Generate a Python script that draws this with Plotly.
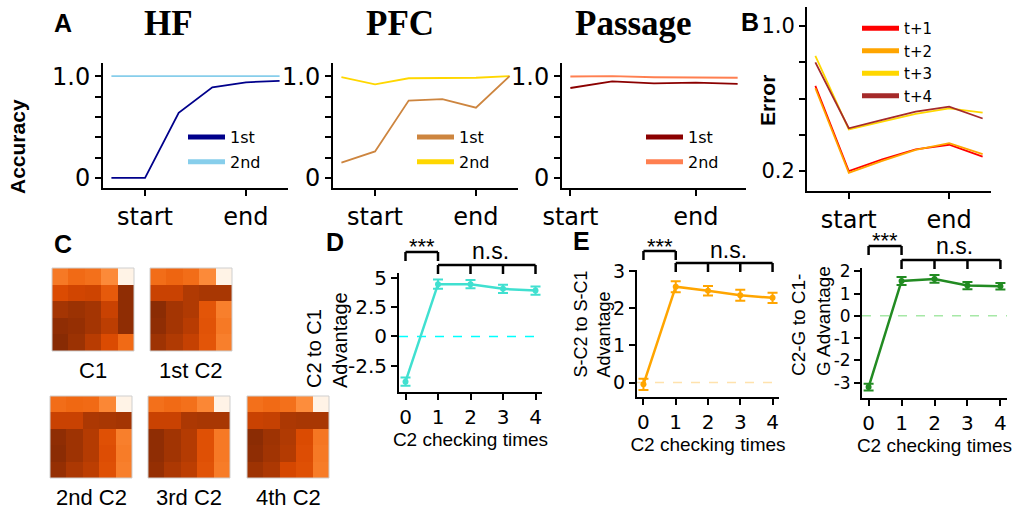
import plotly.graph_objects as go

W, H = 1013, 511

# ---------------- data ----------------
steps6 = [0, 1, 2, 3, 4, 5]
steps5 = [0, 1, 2, 3, 4]
hf_1st = [0.0, 0.0, 0.64, 0.89, 0.94, 0.955]
hf_2nd = [1.0, 1.0, 1.0, 1.0, 1.0, 1.0]
pfc_1st = [0.15, 0.26, 0.76, 0.775, 0.69, 1.0]
pfc_2nd = [0.99, 0.92, 0.98, 0.98, 0.985, 1.0]
passage_1st = [0.884, 0.95, 0.93, 0.937, 0.924]
passage_2nd = [0.997, 1.0, 0.99, 0.99, 0.985]
acc_ticks = [0, 0.2, 0.4, 0.6, 0.8, 1.0]
acc_ticktext = ["0", "", "", "", "", "1.0"]
phase_ticktext = ["start", "end"]

err_t1 = [0.67, 0.20, 0.265, 0.32, 0.345, 0.28]
err_t2 = [0.657, 0.19, 0.256, 0.317, 0.354, 0.293]
err_t3 = [0.835, 0.43, 0.473, 0.515, 0.546, 0.522]
err_t4 = [0.80, 0.436, 0.482, 0.528, 0.555, 0.49]
err_ticks = [0.2, 0.4, 0.6, 0.8, 1.0]
err_ticktext = ["0.2", "", "", "", "1.0"]

c1_map = [[0.57, 0.62, 0.60, 0.51, 0.02],
          [0.74, 0.77, 0.78, 0.68, 0.95],
          [0.88, 0.91, 0.88, 0.79, 0.95],
          [0.95, 0.93, 0.88, 0.82, 0.95],
          [0.97, 0.91, 0.83, 0.74, 0.62]]
c2_1st_map = [[0.61, 0.64, 0.61, 0.51, 0.02],
              [0.79, 0.79, 0.85, 0.87, 0.87],
              [0.96, 0.88, 0.85, 0.70, 0.55],
              [0.95, 0.88, 0.83, 0.71, 0.57],
              [0.90, 0.85, 0.80, 0.70, 0.55]]
c2_2nd_map = [[0.61, 0.63, 0.62, 0.52, 0.02],
              [0.79, 0.79, 0.86, 0.87, 0.88],
              [0.95, 0.90, 0.84, 0.72, 0.55],
              [0.96, 0.90, 0.84, 0.73, 0.56],
              [0.93, 0.86, 0.82, 0.72, 0.55]]
c2_3rd_map = [[0.60, 0.62, 0.60, 0.52, 0.02],
              [0.79, 0.79, 0.86, 0.87, 0.87],
              [0.95, 0.89, 0.84, 0.72, 0.57],
              [0.95, 0.89, 0.84, 0.72, 0.57],
              [0.93, 0.86, 0.82, 0.71, 0.56]]
c2_4th_map = [[0.60, 0.62, 0.60, 0.50, 0.02],
              [0.79, 0.80, 0.86, 0.87, 0.87],
              [0.96, 0.90, 0.85, 0.74, 0.58],
              [0.95, 0.89, 0.84, 0.73, 0.57],
              [0.90, 0.86, 0.76, 0.72, 0.56]]
map_labels = ["C1", "1st C2", "2nd C2", "3rd C2", "4th C2"]

checks = [0, 1, 2, 3, 4]
d_mean = [-3.85, 4.45, 4.45, 4.05, 3.9]
d_err = [0.35, 0.4, 0.35, 0.35, 0.35]
e_mean = [-0.05, 2.58, 2.47, 2.35, 2.28]
e_err = [0.15, 0.15, 0.13, 0.15, 0.14]
f_mean = [-3.2, 1.57, 1.66, 1.36, 1.33]
f_err = [0.15, 0.18, 0.17, 0.16, 0.15]

oranges = [[0.0, "#fff5eb"], [0.125, "#fee6ce"], [0.25, "#fdd0a2"], [0.375, "#fdae6b"],
           [0.5, "#fd8d3c"], [0.625, "#f16913"], [0.75, "#d94801"], [0.875, "#a63603"],
           [1.0, "#7f2704"]]

TICKF = "DejaVu Sans"
SANS = "Liberation Sans"

def px_x(p):
    return p / W

def px_y(p):
    return 1 - p / H

# axis id -> (left px, right px, top px, bottom px, xrange, yrange)
AX = {
    1: (103, 288, 63, 188, [-0.25, 5.25], [-0.1, 1.13]),
    2: (333, 518, 63, 188, [-0.25, 5.25], [-0.1, 1.13]),
    3: (562, 746, 63, 188, [-0.2, 4.2], [-0.1, 1.13]),
    4: (807, 991, 7, 191, [-0.25, 5.25], [0.09, 1.105]),
    5: (52, 134, 268, 351, None, None),
    6: (150, 232, 268, 351, None, None),
    7: (50, 132, 396, 478, None, None),
    8: (148, 230, 396, 478, None, None),
    9: (247, 329, 396, 478, None, None),
    10: (399, 542, 273, 392, [-0.2, 4.2], [-4.73, 5.4]),
    11: (637, 779, 270, 397, [-0.2, 4.2], [-0.39, 3.03]),
    12: (862, 1007, 268, 398, [-0.2, 4.2], [-3.69, 2.15]),
}

def data_to_px_x(i, xv):
    l, r, _, _, xr, _ = AX[i]
    return l + (xv - xr[0]) / (xr[1] - xr[0]) * (r - l)

fig = go.Figure()
layout = dict(width=W, height=H, margin=dict(l=0, r=0, t=0, b=0, pad=0, autoexpand=False),
              paper_bgcolor="white", plot_bgcolor="white", showlegend=True)

for i, (l, r, t, b, xr, yr) in AX.items():
    xs = "xaxis" if i == 1 else f"xaxis{i}"
    ys = "yaxis" if i == 1 else f"yaxis{i}"
    xa = dict(domain=[px_x(l), px_x(r)], anchor=f"y{i}" if i > 1 else "y",
              showgrid=False, zeroline=False, automargin=False)
    ya = dict(domain=[px_y(b), px_y(t)], anchor=f"x{i}" if i > 1 else "x",
              showgrid=False, zeroline=False, automargin=False)
    if xr is None:
        xa.update(visible=False)
        ya.update(visible=False, autorange="reversed")
    else:
        common = dict(showline=True, linecolor="black", linewidth=2, ticks="outside",
                      ticklen=6, tickwidth=2, tickcolor="black", mirror=False)
        xa.update(range=xr, **common)
        ya.update(range=yr, **common)
    layout[xs] = xa
    layout[ys] = ya

def ax_ref(i):
    return ("x", "y") if i == 1 else (f"x{i}", f"y{i}")

# ---------- Panel A ----------
panelA = [
    (1, steps6, hf_1st, hf_2nd, "#00008b", "#87ceeb", "legend"),
    (2, steps6, pfc_1st, pfc_2nd, "#cd853f", "#ffd700", "legend2"),
    (3, steps5, passage_1st, passage_2nd, "#8b0000", "#ff7f50", "legend3"),
]
for i, xs, y1, y2, c1, c2, lg in panelA:
    xa, ya = ax_ref(i)
    fig.add_trace(go.Scatter(x=xs, y=y2, mode="lines", line=dict(color=c2, width=1.8),
                             xaxis=xa, yaxis=ya, showlegend=False))
    fig.add_trace(go.Scatter(x=xs, y=y1, mode="lines", line=dict(color=c1, width=1.8),
                             xaxis=xa, yaxis=ya, showlegend=False))
    fig.add_trace(go.Scatter(x=[None], y=[None], mode="lines", name="1st", legend=lg,
                             legendgroup=lg + "a", line=dict(color=c1, width=5),
                             xaxis=xa, yaxis=ya))
    fig.add_trace(go.Scatter(x=[None], y=[None], mode="lines", name="2nd", legend=lg,
                             legendgroup=lg + "b", line=dict(color=c2, width=5),
                             xaxis=xa, yaxis=ya))
    xkey = "xaxis" if i == 1 else f"xaxis{i}"
    ykey = "yaxis" if i == 1 else f"yaxis{i}"
    tv = [1, 4] if i != 3 else [0, 3]
    layout[xkey].update(tickvals=tv, ticktext=phase_ticktext, tickfont=dict(family=TICKF, size=24, color="black"))
    layout[ykey].update(tickvals=acc_ticks, ticktext=acc_ticktext, tickfont=dict(family=TICKF, size=24, color="black"))

# ---------- Panel B ----------
for name, ys_, col in [("t+1", err_t1, "#ff0000"), ("t+2", err_t2, "#ffa500"),
                       ("t+3", err_t3, "#ffd700"), ("t+4", err_t4, "#a52a2a")]:
    fig.add_trace(go.Scatter(x=steps6, y=ys_, mode="lines", line=dict(color=col, width=1.8),
                             xaxis="x4", yaxis="y4", showlegend=False))
for name, col in [("t+1", "#ff0000"), ("t+2", "#ffa500"), ("t+3", "#ffd700"), ("t+4", "#a52a2a")]:
    fig.add_trace(go.Scatter(x=[None], y=[None], mode="lines", name=name, legend="legend4",
                             legendgroup="b" + name, line=dict(color=col, width=5),
                             xaxis="x4", yaxis="y4"))
layout["xaxis4"].update(tickvals=[1, 4], ticktext=phase_ticktext, tickfont=dict(family=TICKF, size=24, color="black"))
layout["yaxis4"].update(tickvals=err_ticks, ticktext=err_ticktext, tickfont=dict(family=TICKF, size=21, color="black"))

# ---------- Panel C ----------
shapes = []
for k, m in enumerate([c1_map, c2_1st_map, c2_2nd_map, c2_3rd_map, c2_4th_map]):
    i = 5 + k
    fig.add_trace(go.Heatmap(z=m, colorscale=oranges, zmin=0, zmax=1, showscale=False,
                             xaxis=f"x{i}", yaxis=f"y{i}", hoverinfo="skip"))
    l, r, t, b, _, _ = AX[i]
    shapes.append(dict(type="rect", xref="paper", yref="paper", x0=px_x(l), x1=px_x(r),
                       y0=px_y(b), y1=px_y(t), line=dict(color="#cfcfcf", width=1),
                       fillcolor="rgba(0,0,0,0)"))

# ---------- Panels D, E, F ----------
panels = [
    (10, d_mean, d_err, "#40e0d0", "#00ffff", [-2.5, 0, 2.5, 5], ["-2.5", "0", "2.5", "5"], 20),
    (11, e_mean, e_err, "#ffa500", "#ffe2ad", [0, 1, 2, 3], ["0", "1", "2", "3"], 19),
    (12, f_mean, f_err, "#228b22", "#a6e8a6", [-3, -2, -1, 0, 1, 2], ["-3", "-2", "-1", "0", "1", "2"], 17),
]
for i, mean, err, col, zcol, tv, tt, yfs in panels:
    xr = AX[i][4]
    fig.add_trace(go.Scatter(x=xr, y=[0, 0], mode="lines", line=dict(color=zcol, width=1.5, dash="dash"),
                             xaxis=f"x{i}", yaxis=f"y{i}", showlegend=False, hoverinfo="skip"))
    fig.add_trace(go.Scatter(x=checks, y=mean, mode="lines+markers",
                             line=dict(color=col, width=2.5), marker=dict(color=col, size=6),
                             error_y=dict(type="data", array=err, color=col, thickness=2, width=5),
                             xaxis=f"x{i}", yaxis=f"y{i}", showlegend=False))
    layout[f"xaxis{i}"].update(tickvals=checks, ticktext=[str(c) for c in checks],
                               tickfont=dict(family=TICKF, size=20, color="black"),
                               title=dict(text="C2 checking times", font=dict(family=SANS, size=19, color="black"),
                                          standoff=2))
    layout[f"yaxis{i}"].update(tickvals=tv, ticktext=tt, tickfont=dict(family=TICKF, size=yfs, color="black"))

# legends
def leg(x, y, gap, size):
    return dict(bgcolor="rgba(0,0,0,0)", font=dict(family=TICKF, size=size, color="black"),
                xanchor="left", yanchor="top", tracegroupgap=gap, itemwidth=37,
                x=px_x(x), y=px_y(y))

layout["legend"] = leg(183, 120, 1, 16)
layout["legend2"] = leg(412, 120, 1, 16)
layout["legend3"] = leg(641, 120, 1, 16)
layout["legend4"] = leg(857, 12, 0, 15)

# ---------- annotations ----------
ann = []

def text(x, y, s, size, family=SANS, weight="normal", angle=0, xanchor="center", yanchor="middle",
         align="center"):
    ann.append(dict(x=px_x(x), y=px_y(y), xref="paper", yref="paper", text=s, showarrow=False,
                    xanchor=xanchor, yanchor=yanchor, textangle=angle, align=align,
                    font=dict(family=family, size=size, color="black", weight=weight)))

text(63, 23, "A", 25, weight="bold")
text(750, 22, "B", 25, weight="bold")
text(63, 244, "C", 25, weight="bold")
text(335, 242, "D", 25, weight="bold")
text(581, 241, "E", 25, weight="bold")
text(168, 23, "HF", 35, family="Liberation Serif", weight="bold")
text(400, 23, "PFC", 35, family="Liberation Serif", weight="bold")
text(633, 23, "Passage", 35, family="Liberation Serif", weight="bold")
text(17, 147, "Accuracy", 21, weight="bold", angle=-90)
text(768, 101, "Error", 21, weight="bold", angle=-90)
text(327, 390, "C2 to C1<br>Advantage", 20, angle=-90, yanchor="bottom", align="left")
text(592, 380, "S-C2 to S-C1<br>Advantage", 18, angle=-90, yanchor="bottom", align="left")
text(811, 378, "C2-G to C1-<br>G Advantage", 19, angle=-90, yanchor="bottom", align="left")

for k, lab in enumerate(map_labels):
    l, r, t, b, _, _ = AX[5 + k]
    text((l + r) / 2, b + 19, lab, 22)

def seg(x0, y0, x1, y1):
    shapes.append(dict(type="line", xref="paper", yref="paper", x0=px_x(x0), y0=px_y(y0),
                       x1=px_x(x1), y1=px_y(y1), line=dict(color="black", width=2.5)))

# significance brackets: (axis, y of *** bar, y of n.s. bar, star text y, ns text y)
sig = [(10, 252, 265, 246, 251), (11, 251, 263, 246, 250), (12, 246, 260, 241, 246)]
for i, yb1, yb2, ys1, ys2 in sig:
    p = [data_to_px_x(i, c) for c in checks]
    seg(p[0], yb1, p[1], yb1)
    seg(p[0], yb1, p[0], yb1 + 9)
    seg(p[1], yb1, p[1], yb1 + 9)
    seg(p[1], yb2, p[4], yb2)
    for q in p[1:]:
        seg(q, yb2, q, yb2 + 9)
    text((p[0] + p[1]) / 2, ys1, "***", 22)
    text((p[1] + p[4]) / 2 + 4, ys2, "n.s.", 23)

layout["annotations"] = ann
layout["shapes"] = shapes
fig.update_layout(**layout)
fig.write_html("out.html", config={"displayModeBar": False},
               post_script="document.body.style.margin='0px';document.body.style.overflow='hidden';")
